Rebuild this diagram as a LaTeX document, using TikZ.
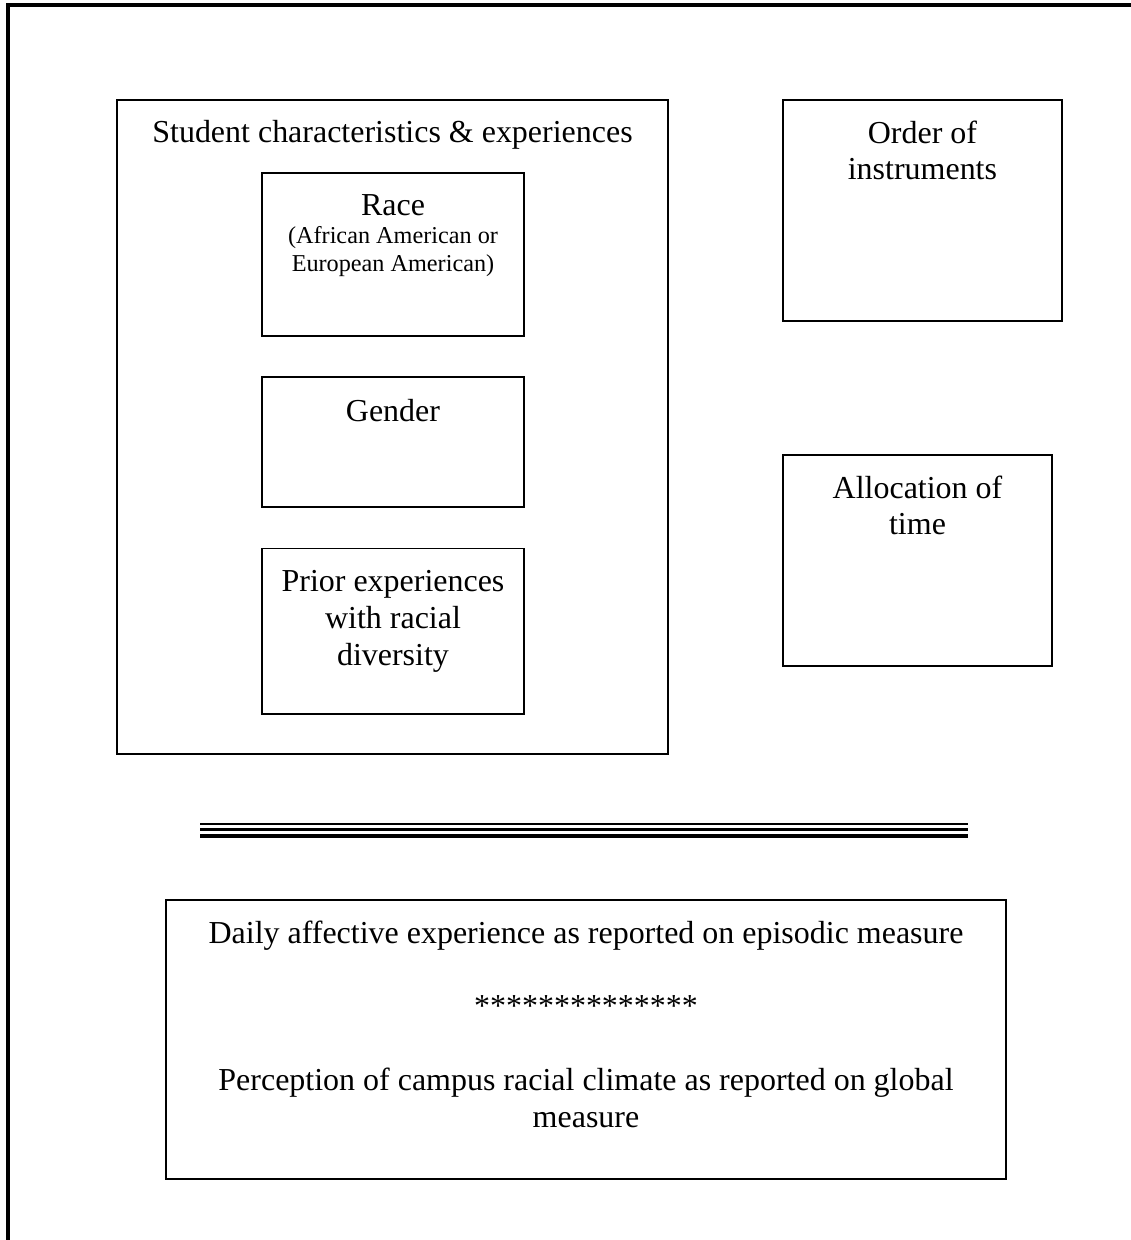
\documentclass[tikz,border=0pt]{standalone}
\usepackage{fontspec}
\setmainfont{Liberation Serif}
\usetikzlibrary{positioning}

\newcommand{\smalltext}{\fontsize{8.6}{9}\selectfont}

\begin{document}
\begin{tikzpicture}[
    x=0.355pt, y=-0.355pt,
    box/.style={rectangle, draw, line width=0.7pt, inner sep=0pt, outer sep=0pt, anchor=north west},
    boxtext/.style={align=center, inner sep=0pt, font=\fontsize{11.35}{13.1}\selectfont},
    frame/.style={line width=1.4pt}
]
\useasboundingbox (0,0) rectangle (1131,1240);

% Frame
\draw[frame] (8,1240) -- (8,5) -- (1131,5);

% Student characteristics & experiences
\node[box, minimum width=195.6pt, minimum height=232.2pt] (student) at (117,100) {};
\node[boxtext, below=7.1pt of student.north] (studentT) {Student characteristics \& experiences};

\node[box, minimum width=93pt, minimum height=57.9pt] (race) at (262,173) {};
\node[boxtext, below=7.4pt of race.north] (raceT) {Race\\[-3pt]{\smalltext (African American or}\\[-3.4pt]{\smalltext European American)}};

\node[box, minimum width=93pt, minimum height=46.2pt, below=14.6pt of race] (gender) {};
\node[boxtext, below=7.5pt of gender.north] (genderT) {Gender};

\node[box, minimum width=93pt, minimum height=58.6pt, below=14.6pt of gender] (prior) {};
\node[boxtext, below=7.5pt of prior.north] (priorT) {Prior experiences\\with racial\\diversity};

% Order and allocation
\node[box, minimum width=99pt, minimum height=78.5pt] (order) at (783,100) {};
\node[boxtext, below=7.1pt of order.north] (orderT) {Order of\\instruments};

\node[box, minimum width=95.5pt, minimum height=74.9pt] (alloc) at (783,455) {};
\node[boxtext, below=7.1pt of alloc.north] (allocT) {Allocation of\\time};

% Separator
\draw[line width=0.9pt] (200,824) -- (968,824);
\draw[line width=0.85pt] (200,829.5) -- (968,829.5);
\draw[line width=1.4pt] (200,836.3) -- (968,836.3);

% Measures
\node[box, minimum width=298.2pt, minimum height=99pt] (measure) at (166,900) {};
\node[boxtext, below=7.1pt of measure.north] (measureT) {Daily affective experience as reported on episodic measure\\[13.1pt]**************\\[13.1pt]Perception of campus racial climate as reported on global\\measure};

\end{tikzpicture}
\end{document}
